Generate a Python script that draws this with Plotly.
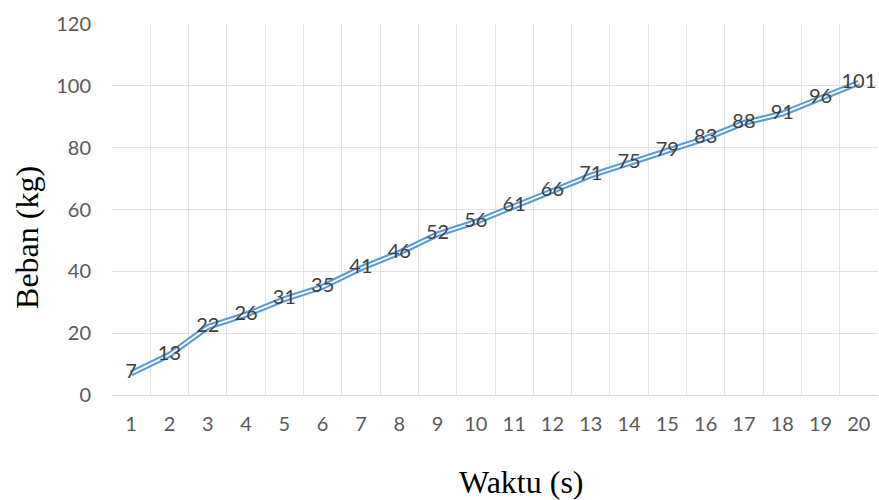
import plotly.graph_objects as go

waktu = list(range(1, 21))
beban = [7, 13, 22, 26, 31, 35, 41, 46, 52, 56, 61, 66, 71, 75, 79, 83, 88, 91, 96, 101]
y_ticks = [0, 20, 40, 60, 80, 100, 120]

fig = go.Figure()

# Double-stroke line: wide blue stroke with a thin white core
fig.add_trace(go.Scatter(
    x=waktu, y=beban, mode="lines",
    line=dict(color="#5b9bd5", width=6),
    hoverinfo="skip", showlegend=False,
))
fig.add_trace(go.Scatter(
    x=waktu, y=beban, mode="lines+text",
    line=dict(color="white", width=1.8),
    text=[str(v) for v in beban], textposition="middle center",
    textfont=dict(family="Lato, Open Sans, sans-serif", size=20, color="#404040"),
    showlegend=False,
))

title_font = dict(family="Liberation Serif, Times New Roman, serif", size=32, color="black")

fig.update_layout(
    width=879, height=500,
    margin=dict(l=112, r=1, t=24, b=105),
    paper_bgcolor="white", plot_bgcolor="white",
    font=dict(family="Lato, Open Sans, sans-serif", color="#595959"),
    xaxis=dict(
        range=[0.5, 20.5], tickmode="array", tickvals=waktu,
        ticktext=[str(v) for v in waktu],
        tickfont=dict(size=20, color="#595959"),
        showgrid=False, zeroline=False, ticks="",
        ticklabelstandoff=11,
        minor=dict(tick0=0.5, dtick=1, showgrid=True, gridcolor="#e3e3e3", gridwidth=1),
        showline=True, linecolor="#d9d9d9", linewidth=1,
    ),
    yaxis=dict(
        range=[0, 120], tickvals=y_ticks,
        tickfont=dict(size=20, color="#595959"),
        showgrid=True, gridcolor="#e3e3e3", gridwidth=1,
        zeroline=False, ticks="", ticklabelstandoff=20,
    ),
    annotations=[
        dict(text="Waktu (s)", xref="paper", yref="paper", x=0.534, y=-0.2345,
             xanchor="center", yanchor="middle", showarrow=False, font=title_font),
        dict(text="Beban (kg)", xref="paper", yref="paper", x=-0.111, y=0.426,
             xanchor="center", yanchor="middle", showarrow=False, textangle=-90,
             font=title_font),
    ],
)

fig.write_html("out.html")
